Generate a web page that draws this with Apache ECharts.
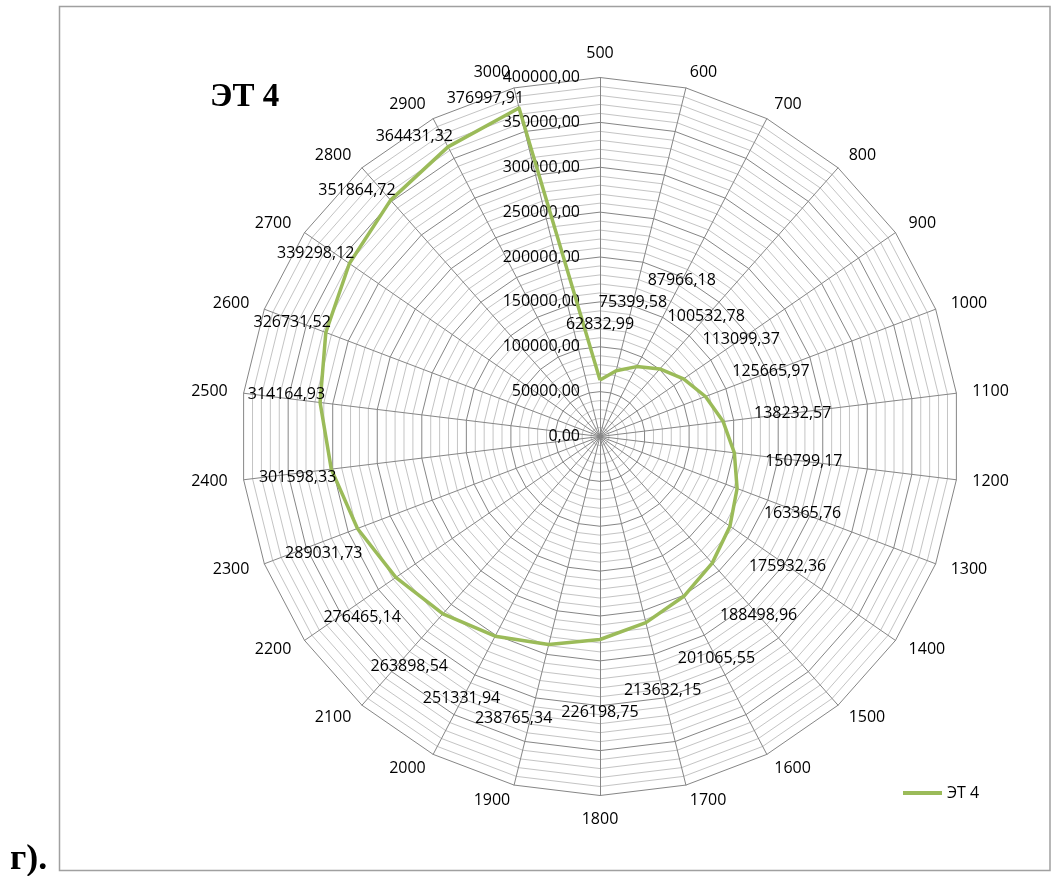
<!DOCTYPE html>
<html>
<head>
<meta charset="utf-8">
<script src="https://cdn.jsdelivr.net/npm/echarts@6/dist/echarts.min.js"></script>
<style>
  html, body { margin: 0; padding: 0; background: #ffffff; }
  #chart { width: 1057px; height: 876px; }
</style>
</head>
<body>
<div id="chart"></div>
<script>
// Rotation speed categories (clockwise from the top)
const categories = ['500', '600', '700', '800', '900', '1000', '1100', '1200', '1300',
  '1400', '1500', '1600', '1700', '1800', '1900', '2000', '2100', '2200', '2300',
  '2400', '2500', '2600', '2700', '2800', '2900', '3000'];

// Series values, one per category
const values = [62832.99, 75399.58, 87966.18, 100532.78, 113099.37, 125665.97, 138232.57,
  150799.17, 163365.76, 175932.36, 188498.96, 201065.55, 213632.15, 226198.75,
  238765.34, 251331.94, 263898.54, 276465.14, 289031.73, 301598.33, 314164.93,
  326731.52, 339298.12, 351864.72, 364431.32, 376997.91];

const seriesName = 'ЭТ 4';
const panelLabel = 'г).';

// Value axis: 0..400000, labelled every 50000, minor rings every 10000
const axisMin = 0;
const axisMax = 400000;
const minorStep = 10000;
const majorStep = 50000;

const CX = 600, CY = 436.5, R = 359;
const GREEN = '#9BBB59';
const FONT = '"Open Sans", "Noto Sans", sans-serif';
const SERIF = '"Liberation Serif", "DejaVu Serif", serif';
const LABEL_OFFSET = 70;
const LABEL_FONT_SIZE = 16;

const fmt = v => Number(v).toFixed(2).replace('.', ',');

// ECharts lays radar indicators out counter-clockwise; reorder so the axes run clockwise
const order = categories.map((_, i) => (categories.length - i) % categories.length);

const ringsPerMajor = majorStep / minorStep;
const ringColors = Array.from({ length: ringsPerMajor }, (_, i) => (i === 0 ? '#868686' : '#c4c4c4'));

// ---- data label placement ----
// Labels sit outward from their point; on the left half they stay right-aligned
// near the point so they remain inside the plot. A second pass nudges labels
// outward wherever two of them would collide, working down each half from the top.
const labelPoints = {};
let labelPlan = null;

function basePlacement(info) {
  const dx = info.px - CX, dy = info.py - CY;
  const len = Math.hypot(dx, dy) || 1;
  const ux = dx / len, uy = dy / len;
  if (ux < -0.05) {
    return { x: info.px - info.w / 2 + 5, y: info.py + Math.max(LABEL_OFFSET * uy, -10), ux, uy };
  }
  // a label straight above the centre sits a little closer to its point
  const d = (Math.abs(ux) < 0.05 && uy < 0) ? LABEL_OFFSET - 14 : LABEL_OFFSET;
  return { x: info.px + d * ux, y: info.py + d * uy, ux, uy };
}

function placeLabel(p) {
  const info = {
    px: p.rect.x + p.rect.width / 2,
    py: p.rect.y + p.rect.height / 2,
    w: p.labelRect.width
  };
  labelPoints[p.text] = info;
  const pos = (labelPlan && labelPlan[p.text]) || basePlacement(info);
  return { x: pos.x, y: pos.y, align: 'center', verticalAlign: 'middle' };
}

function resolveLabelOverlaps() {
  const plan = {};
  const placed = [];
  const h = LABEL_FONT_SIZE * 1.25;
  const boxOf = (c, w) => ({ x0: c.x - w / 2, x1: c.x + w / 2, y0: c.y - h / 2, y1: c.y + h / 2 });
  const hits = b => placed.some(o => b.x0 < o.x1 && b.x1 > o.x0 && b.y0 < o.y1 && b.y1 > o.y0);
  // right half clockwise from the top, then left half anticlockwise from the top
  const half = Math.ceil(values.length / 2) + 1;
  const sequence = [];
  for (let k = 0; k < half; k++) sequence.push(k);
  for (let k = values.length - 1; k >= half; k--) sequence.push(k);
  sequence.forEach(k => {
    const text = fmt(values[k]);
    const info = labelPoints[text];
    if (!info) return;
    const c = basePlacement(info);
    let box = boxOf(c, info.w);
    for (let step = 0; step < 40 && hits(box); step++) {
      c.x += 3 * c.ux;
      c.y += 3 * c.uy;
      box = boxOf(c, info.w);
    }
    placed.push(box);
    plan[text] = { x: c.x, y: c.y };
  });
  return plan;
}

const chart = echarts.init(document.getElementById('chart'), null, { renderer: 'canvas' });

const option = {
  animation: false,
  backgroundColor: '#ffffff',
  title: {
    text: seriesName,
    left: 210,
    top: 81,
    padding: 0,
    textStyle: { fontFamily: SERIF, fontWeight: 'bold', fontSize: 33, color: '#000' }
  },
  legend: {
    data: [seriesName],
    left: 903,
    top: 785,
    padding: 0,
    icon: 'rect',
    itemWidth: 39,
    itemHeight: 4,
    selectedMode: false,
    textStyle: { fontFamily: FONT, fontSize: 16, color: '#000' }
  },
  graphic: [
    {
      type: 'rect',
      z: -10,
      shape: { x: 59.5, y: 6.5, width: 990.5, height: 864 },
      style: { fill: 'none', stroke: '#a0a0a0', lineWidth: 1.5 }
    },
    {
      type: 'text',
      left: 10,
      top: 842,
      style: { text: panelLabel, font: 'bold 36px ' + SERIF, fill: '#000' }
    }
  ],
  radar: {
    center: [CX, CY],
    radius: R,
    startAngle: 90,
    shape: 'polygon',
    splitNumber: (axisMax - axisMin) / minorStep,
    nameGap: 16,
    indicator: order.map((k, j) => ({
      name: categories[k],
      min: axisMin,
      max: axisMax,
      axisLabel: { show: j === 0 }
    })),
    axisName: { color: '#000', fontFamily: FONT, fontSize: 16 },
    axisLine: { lineStyle: { color: '#868686', width: 1 } },
    axisTick: { show: false },
    splitLine: { lineStyle: { color: ringColors, width: 1 } },
    splitArea: { show: false },
    axisLabel: {
      show: true,
      margin: 20,
      color: '#000',
      fontFamily: FONT,
      fontSize: 16,
      formatter: v => (Math.round(v) % majorStep === 0 ? fmt(v) : '')
    }
  },
  series: [{
    type: 'radar',
    name: seriesName,
    symbol: 'circle',
    symbolSize: 1,
    itemStyle: { color: GREEN },
    lineStyle: { color: GREEN, width: 3.5 },
    emphasis: { disabled: true },
    label: {
      show: true,
      color: '#000',
      fontFamily: FONT,
      fontSize: LABEL_FONT_SIZE,
      formatter: p => fmt(p.value)
    },
    labelLayout: placeLabel,
    data: [{ name: seriesName, value: order.map(k => values[k]) }]
  }]
};

// first pass collects label anchors, second pass draws the resolved placement
chart.setOption(option);
labelPlan = resolveLabelOverlaps();
chart.setOption(option, true);
</script>
</body>
</html>
